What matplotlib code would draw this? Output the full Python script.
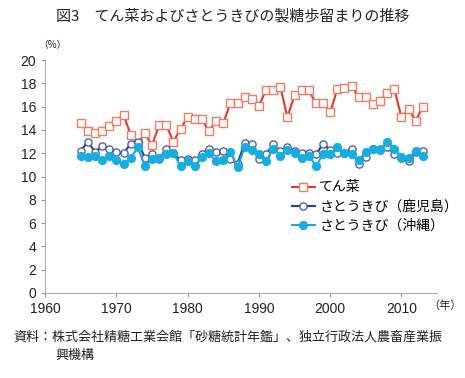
import matplotlib
matplotlib.use("Agg")
import matplotlib.pyplot as plt

plt.rcParams['font.family'] = ['Noto Sans CJK JP', 'DejaVu Sans']

# データ（1965〜2013年）
years = list(range(1965, 2014))

tensai = [14.6, 13.9, 13.7, 13.9, 14.3, 14.8, 15.3, 13.6, 12.8, 13.7,
          12.7, 14.4, 14.4, 13.0, 14.1, 15.1, 14.9, 14.9, 13.9, 14.8,
          14.6, 16.3, 16.3, 16.8, 16.7, 16.1, 17.4, 17.4, 17.7, 15.1,
          17.0, 17.4, 17.4, 16.3, 16.3, 15.5, 17.5, 17.6, 17.8, 16.8,
          16.8, 16.2, 16.5, 17.2, 17.5, 15.1, 15.8, 14.8, 16.0]

kagoshima = [12.2, 13.0, 12.1, 12.6, 12.4, 12.1, 12.0, 12.8, 13.0, 11.6,
             11.9, 11.5, 12.4, 12.0, 11.4, 11.5, 11.4, 11.9, 12.4, 12.1,
             12.2, 11.5, 11.1, 12.9, 12.8, 11.5, 11.9, 12.8, 12.2, 12.5,
             12.2, 12.0, 12.0, 11.9, 12.8, 12.3, 12.0, 12.0, 12.4, 11.1,
             11.7, 12.4, 12.4, 12.5, 11.9, 11.6, 11.3, 12.1, 12.2]

okinawa = [11.8, 11.7, 11.8, 11.4, 11.8, 11.4, 11.1, 11.6, 12.5, 10.9,
           11.5, 11.6, 11.9, 12.0, 10.9, 11.3, 10.9, 11.7, 12.0, 11.3,
           11.4, 12.1, 10.8, 12.5, 12.3, 11.9, 11.3, 12.4, 11.8, 12.3,
           12.0, 11.6, 11.8, 10.9, 11.9, 11.9, 12.5, 12.0, 11.9, 11.4,
           12.1, 12.4, 12.3, 13.0, 12.4, 11.7, 11.6, 12.2, 11.8]

labels = ["てん菜", "さとうきび（鹿児島）", "さとうきび（沖縄）"]
xticks = [1960, 1970, 1980, 1990, 2000, 2010]
yticks = list(range(0, 21, 2))

fig = plt.figure(figsize=(4.65, 3.78), dpi=100)
ax = fig.add_axes([0.097, 0.225, 0.843, 0.616])

ax.plot(years, tensai, color="#e8372a", lw=1.5, marker="s", ms=5.5,
        mfc="white", mec="#f07a62", mew=1.0, label=labels[0])
ax.plot(years, kagoshima, color="#2b3a98", lw=1.5, marker="o", ms=5.2,
        mfc="white", mec="#3d4fb0", mew=0.9, label=labels[1])
ax.plot(years, okinawa, color="#1aa7dc", lw=1.5, marker="o", ms=5.6,
        mfc="#16aee0", mec="#16aee0", label=labels[2])

ax.set_xlim(1960, 2015)
ax.set_ylim(0, 20)
ax.set_xticks(xticks)
ax.set_yticks(yticks)
for lab in ax.get_xticklabels() + ax.get_yticklabels():
    lab.set_family("Liberation Sans")
    lab.set_fontsize(10)
ax.tick_params(colors="#999999", labelcolor="#222222", length=3, width=0.8)
for s in ["top", "right"]:
    ax.spines[s].set_visible(False)
for s in ["left", "bottom"]:
    ax.spines[s].set_color("#aaaaaa")

leg = ax.legend(loc="upper left", bbox_to_anchor=(279 / 465, 1 - 168 / 378),
                bbox_transform=fig.transFigure, frameon=False, fontsize=10,
                handlelength=1.7, handletextpad=0.3, labelspacing=0.36)

fig.text(0.5, 1 - 16 / 378, "図3　てん菜およびさとうきびの製糖歩留まりの推移",
         ha="center", va="center", fontsize=10.8, color="#222222")
fig.text(52 / 465, 1 - 45 / 378, "（%）", ha="center", va="center", fontsize=7, color="#222222")
fig.text(445 / 465, 1 - 306 / 378, "（年）", ha="center", va="center", fontsize=8, color="#222222")
fig.text(13 / 465, 1 - 337 / 378,
         "資料：株式会社精糖工業会館「砂糖統計年鑑」、独立行政法人農畜産業振",
         ha="left", va="center", fontsize=9.4, color="#222222")
fig.text(55 / 465, 1 - 355 / 378, "興機構", ha="left", va="center", fontsize=9.4, color="#222222")

fig.savefig("out.png", dpi=100)
